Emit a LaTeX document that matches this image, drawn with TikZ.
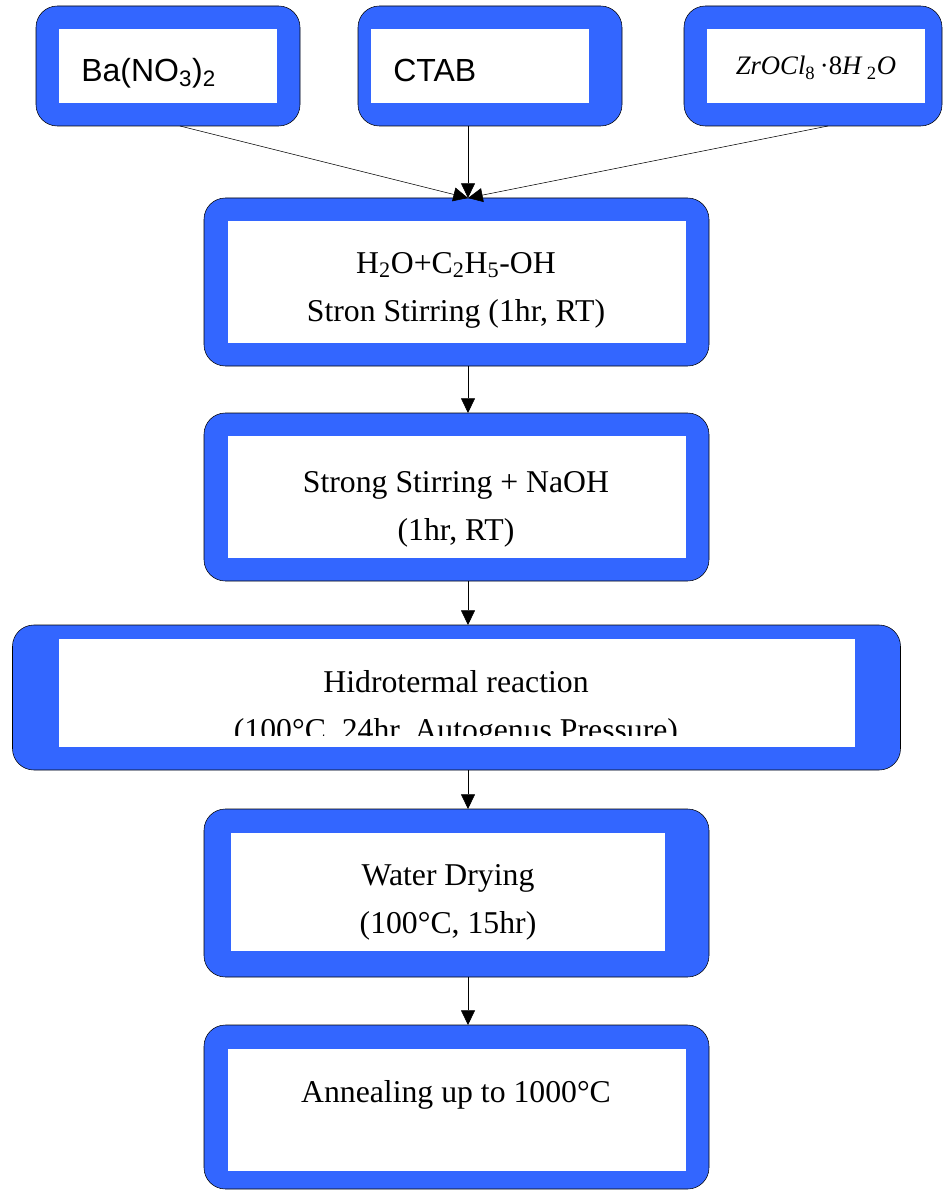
\documentclass[tikz,border=0pt]{standalone}
\usepackage{fontspec}
\setmainfont{Liberation Serif}
\newfontfamily\arialfont{Liberation Sans}
\usetikzlibrary{arrows.meta}
\usetikzlibrary{positioning}
\definecolor{boxblue}{HTML}{3366FF}
\tikzset{>={Triangle[length=11pt,width=10.5pt]}, line width=1.2pt, font=\fontsize{23.8}{36}\selectfont}
\tikzstyle{stepbox} = [draw=black, fill=boxblue, rectangle, rounded corners=16pt, minimum width=378.75pt, minimum height=126pt, inner sep=0pt, outer sep=0pt]
\tikzstyle{topbox} = [stepbox, minimum width=198pt, minimum height=90pt]
\tikzstyle{panel} = [fill=white, rectangle, inner sep=0pt, outer sep=0pt]
\tikzstyle{toppanel} = [panel, minimum width=163.5pt, minimum height=55.5pt]
\tikzstyle{steppanel} = [panel, minimum width=343.5pt, minimum height=91.5pt]
\tikzstyle{txt} = [anchor=base, align=center, inner sep=0pt]
\tikzstyle{chem} = [txt, anchor=base west, font=\fontsize{24}{28}\selectfont\arialfont]

\begin{document}
\begin{tikzpicture}[x=0.75pt, y=-0.75pt]
		\useasboundingbox (0,0) rectangle (943,1191);
		\coordinate (spine) at (468,0);

		\node [topbox] at (168,66) (ba_box) {};
		\node [topbox, right=43.5pt of ba_box] (ctab_box) {};
		\node [topbox, minimum width=193.5pt, right=46.5pt of ctab_box] (zr_box) {};

		\node [toppanel] at (ba_box) (ba_in) {};
		\node [toppanel, xshift=-7.5pt] at (ctab_box) (ctab_in) {};
		\node [toppanel, xshift=2.25pt] at (zr_box) (zr_in) {};

		\node [chem] at (81,82) (ba_txt) {Ba(NO\textsubscript{3})\textsubscript{2}};
		\node [chem] at (393,82) (ctab_txt) {CTAB};
		\node [txt, font=\fontsize{20}{24}\selectfont] at (816,75) (zr_txt) {\textit{ZrOCl}\textsubscript{8}\,·8\textit{H}\,\textsubscript{2}\textit{O}};

		\node [stepbox] at (456.5,282) (mix_box) {};
		\node [stepbox, below=35.25pt of mix_box] (naoh_box) {};
		\node [stepbox, minimum width=666pt, minimum height=108.75pt, below=33pt of naoh_box] (hydro_box) {};
		\node [stepbox, below=29.25pt of hydro_box] (dry_box) {};
		\node [stepbox, minimum height=123pt, below=36pt of dry_box] (anneal_box) {};

		\node [steppanel] at (mix_box) (mix_in) {};
		\node [steppanel] at (naoh_box) (naoh_in) {};
		\node [panel, minimum width=597pt, minimum height=81pt, yshift=3.4pt] at (hydro_box) (hydro_in) {};
		\node [panel, minimum width=325.5pt, minimum height=88.5pt, xshift=-6.4pt, yshift=0.75pt] at (dry_box) (dry_in) {};
		\node [steppanel, yshift=-2.25pt] at (anneal_box) (anneal_in) {};

		\node [txt] at (456,321) (mix_txt) {H\textsubscript{2}O+C\textsubscript{2}H\textsubscript{5}-OH\\Stron Stirring (1hr, RT)};
		\node [txt] at (456,540) (naoh_txt) {Strong Stirring + NaOH\\(1hr, RT)};
		\begin{scope}
			\clip (hydro_in.north west) rectangle ([yshift=8.25pt]hydro_in.south east);
			\node [txt] at (456,740) (hydro_txt) {Hidrotermal reaction\\(100°C, 24hr, Autogenus Pressure)};
		\end{scope}
		\node [txt] at (448,933) (dry_txt) {Water Drying\\(100°C, 15hr)};
		\node [txt] at (456,1102) (anneal_txt) {Annealing up to 1000°C};

		\draw [->] ([xshift=9pt]ba_box.south) -- (mix_box.north -| spine);
		\draw [->] (ctab_box.south -| spine) -- (mix_box.north -| spine);
		\draw [->] ([xshift=11.25pt]zr_box.south) -- (mix_box.north -| spine);
		\draw [->] (mix_box.south -| spine) -- (naoh_box.north -| spine);
		\draw [->] (naoh_box.south -| spine) -- (hydro_box.north -| spine);
		\draw [->] (hydro_box.south -| spine) -- (dry_box.north -| spine);
		\draw [->] (dry_box.south -| spine) -- (anneal_box.north -| spine);
	\end{tikzpicture}
\end{document}
